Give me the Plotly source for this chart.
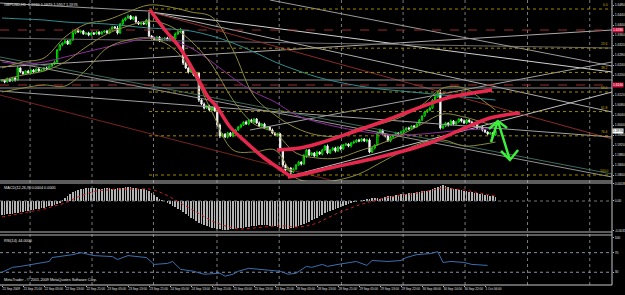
import plotly.graph_objects as go

# ---------------- DATA (GBPUSD H1) ----------------
first_open = 1.6176
closes = [
    1.6180, 1.6172, 1.6184, 1.6176, 1.6188, 1.6180,
    1.6228,
    1.6212, 1.6204, 1.6216, 1.6208, 1.6220, 1.6212, 1.6224, 1.6216, 1.6220, 1.6228, 1.6224, 1.6236,
    1.6244, 1.6252,
    1.6300, 1.6320,
    1.6328, 1.6336, 1.6324, 1.6340,
    1.6368, 1.6380, 1.6372, 1.6376,
    1.6364, 1.6368, 1.6360, 1.6368, 1.6364, 1.6372, 1.6364,
    1.6372, 1.6376, 1.6368, 1.6380,
    1.6392, 1.6388,
    1.6368,
    1.6404, 1.6420,
    1.6428, 1.6436, 1.6424, 1.6432,
    1.6412, 1.6404,
    1.6408, 1.6404, 1.6420,
    1.6356,
    1.6348, 1.6340, 1.6352, 1.6336, 1.6344, 1.6348, 1.6340, 1.6352, 1.6344,
    1.6364, 1.6372, 1.6376,
    1.6248,
    1.6228, 1.6212, 1.6220, 1.6200, 1.6208,
    1.6100,
    1.6084, 1.6068, 1.6076, 1.6060, 1.6072, 1.6056,
    1.6000, 1.5956,
    1.5964, 1.5952, 1.5968, 1.5956, 1.5972, 1.5980,
    1.5992, 1.6000, 1.6012, 1.6004, 1.6020, 1.6012, 1.6024, 1.6008,
    1.5996, 1.6004, 1.5988, 1.5992, 1.5980,
    1.5968, 1.5960, 1.5964,
    1.5900, 1.5840,
    1.5820, 1.5828, 1.5812, 1.5824,
    1.5840, 1.5852, 1.5844,
    1.5876, 1.5900, 1.5880,
    1.5888, 1.5876, 1.5892, 1.5884,
    1.5900, 1.5916, 1.5888,
    1.5900, 1.5908, 1.5896, 1.5912, 1.5904,
    1.5920, 1.5924, 1.5916, 1.5928,
    1.5932, 1.5940, 1.5936, 1.5944, 1.5936, 1.5940,
    1.5892,
    1.5908, 1.5920,
    1.5968, 1.5980,
    1.5964, 1.5956, 1.5936, 1.5952,
    1.5960, 1.5968, 1.5964, 1.5972, 1.5980,
    1.5988, 1.5984, 1.5996, 1.5992, 1.6004,
    1.6020, 1.6036, 1.6052, 1.6060, 1.6068,
    1.6100, 1.6112, 1.6128,
    1.5988,
    1.5996, 1.6008, 1.6000, 1.6016, 1.6004,
    1.6012, 1.6024, 1.6016, 1.6008, 1.6020,
    1.6012, 1.6000, 1.6004, 1.5988, 1.5992,
    1.5980, 1.5972, 1.5964, 1.5968, 1.5960, 1.5976,
]
up_wick_pips = [
    4, 3, 6, 2, 5, 3, 8, 3, 4, 2,
    5, 3, 4, 2, 6, 3, 4, 5, 3, 4,
    6, 4, 5, 3, 7, 4, 3, 10, 4, 5,
    3, 4, 2, 5, 3, 4, 6, 3, 4, 2,
    5, 6, 3, 4, 8, 4, 5, 3, 6, 4,
    3, 5, 4, 3, 5, 4, 40, 4, 5, 3,
    4, 6, 3, 5, 4, 3, 6, 5, 12, 4,
    5, 3, 6, 4, 5, 4, 3, 6, 4, 5,
    3, 4, 5, 6, 4, 3, 5, 4, 6, 3,
    4, 5, 3, 6, 4, 5, 3, 4, 6, 4,
    5, 3, 4, 6, 3, 5, 4, 8, 5, 4,
    3, 6, 4, 5, 3, 8, 4, 5, 3, 4,
    6, 3, 5, 4, 6, 3, 4, 5, 3, 6,
    4, 5, 3, 4, 6, 3, 5, 4, 3, 5,
    6, 4, 3, 5, 6, 4, 3, 5, 4, 3,
    5, 4, 6, 3, 4, 5, 3, 4, 6, 4,
    3, 5, 4, 6, 4, 5, 8, 12, 4, 5,
    3, 6, 4, 5, 3, 4, 6, 4, 3, 5,
    4, 3, 5, 6, 4, 3, 5, 4, 3,
]
down_wick_pips = [
    3, 5, 2, 4, 3, 6, 2, 5, 3, 4,
    2, 5, 3, 4, 3, 2, 5, 3, 4, 2,
    3, 4, 2, 5, 3, 4, 2, 3, 5, 4,
    6, 3, 4, 5, 3, 4, 3, 5, 2, 4,
    3, 5, 4, 3, 6, 3, 4, 5, 3, 4,
    5, 3, 4, 6, 3, 5, 4, 6, 3, 5,
    4, 3, 5, 4, 6, 3, 4, 3, 5, 8,
    4, 6, 3, 5, 4, 8, 5, 6, 4, 5,
    4, 3, 6, 8, 5, 4, 6, 3, 5, 4,
    3, 5, 4, 3, 5, 4, 6, 3, 4, 5,
    4, 6, 3, 5, 4, 6, 3, 8, 4, 5,
    16, 4, 5, 3, 6, 4, 8, 5, 4, 3,
    5, 4, 6, 3, 5, 4, 3, 6, 4, 5,
    3, 4, 5, 6, 3, 4, 5, 3, 4, 6,
    5, 4, 6, 3, 4, 5, 6, 3, 5, 4,
    4, 5, 3, 4, 6, 3, 5, 4, 3, 4,
    5, 3, 4, 5, 3, 4, 3, 6, 5, 4,
    6, 3, 5, 4, 3, 6, 4, 5, 3, 4,
    5, 4, 3, 6, 4, 5, 3, 4, 3,
]

time_labels = ["21 Sep 2009", "21 Sep 21:00", "22 Sep 05:00", "22 Sep 13:00", "22 Sep 21:00",
               "23 Sep 05:00", "23 Sep 13:00", "23 Sep 21:00", "24 Sep 05:00", "24 Sep 13:00",
               "24 Sep 21:00", "25 Sep 05:00", "25 Sep 13:00", "25 Sep 21:00", "28 Sep 05:00",
               "28 Sep 13:00", "28 Sep 21:00", "29 Sep 05:00", "29 Sep 13:00", "29 Sep 22:00",
               "30 Sep 06:00", "30 Sep 14:00", "30 Sep 22:00", "1 Oct 06:00"]
time_label_bars = [0, 8, 16, 24, 32, 40, 48, 56, 64, 72, 80, 88, 96, 104, 112, 120,
                   128, 136, 144, 152, 160, 168, 176, 184]

price_ticks = [1.5800, 1.5840, 1.5880, 1.5920, 1.5960, 1.6000, 1.6040, 1.6080, 1.6120,
               1.6200, 1.6240, 1.6280, 1.6320, 1.6360, 1.6400, 1.6440, 1.6480]

# indicator lines sampled every 8 bars (+ last bar)
ind_bars = [0, 8, 16, 24, 32, 40, 48, 56, 64, 72, 80, 88, 96, 104, 112, 120, 128,
            136, 144, 152, 160, 168, 176, 184, 188]
bb_upper = [1.6228, 1.6252, 1.6268, 1.6352, 1.6404, 1.6420, 1.6452, 1.6480, 1.6472, 1.6452,
            1.6432, 1.6300, 1.6116, 1.6040, 1.5988, 1.5960, 1.5956, 1.5988, 1.6004, 1.6032,
            1.6080, 1.6148, 1.6148, 1.6092, 1.6060]
bb_middle = [1.6180, 1.6200, 1.6216, 1.6252, 1.6312, 1.6364, 1.6396, 1.6416, 1.6396, 1.6336,
             1.6240, 1.6100, 1.6004, 1.5968, 1.5888, 1.5868, 1.5868, 1.5896, 1.5924, 1.5960,
             1.6004, 1.6044, 1.6032, 1.6008, 1.5996]
bb_lower = [1.6132, 1.6148, 1.6160, 1.6156, 1.6220, 1.6308, 1.6340, 1.6348, 1.6316, 1.6220,
            1.6052, 1.5900, 1.5892, 1.5900, 1.5788, 1.5772, 1.5780, 1.5804, 1.5848, 1.5892,
            1.5928, 1.5940, 1.5916, 1.5924, 1.5932]
ma_purple = [1.6252, 1.6244, 1.6252, 1.6272, 1.6292, 1.6312, 1.6332, 1.6348, 1.6340, 1.6308,
             1.6252, 1.6188, 1.6132, 1.6092, 1.6040, 1.6012, 1.5992, 1.5976, 1.5964, 1.5960,
             1.5964, 1.5972, 1.5980, 1.5984, 1.5988]
ma_teal = [1.6428, 1.6424, 1.6420, 1.6412, 1.6408, 1.6404, 1.6396, 1.6388, 1.6384, 1.6376,
           1.6356, 1.6328, 1.6292, 1.6252, 1.6220, 1.6192, 1.6172, 1.6156, 1.6144, 1.6136,
           1.6128, 1.6120, 1.6112, 1.6104, 1.6100]

# trend lines: (bar0, price0, bar1, price1)
trend_lines = [
    (-0.76, 1.6488, 55.6, 1.6456),
    (56.4, 1.6452, 232.4, 1.6212),
    (-0.76, 1.6232, 232.4, 1.6380),
    (-0.76, 1.6348, 232.4, 1.6308),
    (102.1, 1.6500, 232.4, 1.6236),
    (94.5, 1.5980, 232.4, 1.6252),
    (56.4, 1.6452, 232.4, 1.6052),
    (109.7, 1.5796, 232.4, 1.6132),
    (55.2, 1.6456, 232.4, 1.5944),
    (-0.76, 1.6136, 232.4, 1.5952),
    (-0.76, 1.6260, 232.4, 1.5792),
    (-0.76, 1.6272, 232.4, 1.5804),
    (-0.76, 1.6120, 124.95, 1.5780),
]
trend_colors = ["#9A9A9A", "#D0D0D0", "#B0A8A8", "#6A6A6A", "#9A9A9A", "#A0A0A0", "#ACACAC",
                "#C0C0C0", "#8B2A2A", "#A0A0A0", "#929292", "#3D6B5A", "#7A2222"]
hline_prices = [1.6380, 1.6160, 1.6180, 1.6148]
hline_colors = ["#9B2B2B", "#9B2B2B", "#8A8A8A", "#8A8A8A"]
hline_dash = ["dash", "dash", "solid", "solid"]

fib_start_bar = 56
fib_high = 1.6464
fib_low = 1.5800
fib_ratios = [0.0, 0.236, 0.382, 0.5, 0.618, 0.764, 1.0]
fib_texts = ["0.0", "23.6", "38.2", "50.0", "61.8", "76.4", "100.0"]

# hand-drawn red lines and green arrow
red_down_bars = [56.4, 62.1, 67.8, 74.3, 78.5, 81.9, 86.9, 93.3, 99.4, 104.8, 109.7]
red_down_prices = [1.6460, 1.6380, 1.6308, 1.6192, 1.6112, 1.6072, 1.5992, 1.5928, 1.5872, 1.5832, 1.5796]
red_low_bars = [108.9, 113.5, 124.9, 144.0, 163.0, 174.5, 185.9, 191.6, 197.3]
red_low_prices = [1.5792, 1.5800, 1.5828, 1.5872, 1.5928, 1.5980, 1.6028, 1.6040, 1.6048]
red_up_bars = [104.8, 113.5, 121.1, 133.7, 146.7, 156.6, 169.5, 179.4, 186.7]
red_up_prices = [1.5900, 1.5908, 1.5928, 1.5972, 1.6020, 1.6060, 1.6108, 1.6128, 1.6140]
arrow_stem_bars = [186.3, 188.9, 193.5]
arrow_stem_prices = [1.5932, 1.6016, 1.5860]
arrow_top_bars = [185.5, 188.9, 192.4]
arrow_top_prices = [1.5984, 1.6016, 1.5988]
arrow_bot_bars = [190.1, 193.5, 196.6]
arrow_bot_prices = [1.5896, 1.5860, 1.5900]

# MACD main (histogram) per bar and signal every 4 bars
macd_main = [
    -0.0014, -0.0014, -0.0013, -0.0013, -0.0013, -0.0012, -0.0012, -0.0011, -0.0011, -0.0010,
    -0.0010, -0.0009, -0.0009, -0.0008, -0.0008, -0.0007, -0.0007, -0.0006, -0.0005, -0.0005,
    -0.0004, -0.0003, -0.0002,
    0.0001, 0.0003, 0.0005, 0.0007, 0.0009, 0.0010, 0.0011, 0.0012, 0.0012, 0.0013, 0.0013, 0.0013,
    0.0013, 0.0013, 0.0012, 0.0012, 0.0013, 0.0013, 0.0013, 0.0012, 0.0012, 0.0013,
    0.0013, 0.0013, 0.0014, 0.0014, 0.0014, 0.0013, 0.0013, 0.0012, 0.0012, 0.0012, 0.0011,
    0.0010, 0.0008, 0.0006, 0.0004, 0.0002, 0.0001, 0.0000,
    -0.0002, -0.0003, -0.0005, -0.0006, -0.0008, -0.0009, -0.0011, -0.0013, -0.0015, -0.0017,
    -0.0018, -0.0020, -0.0022, -0.0023, -0.0024, -0.0025, -0.0026,
    -0.0027, -0.0027, -0.0028, -0.0028, -0.0029, -0.0029, -0.0029, -0.0028, -0.0028, -0.0028,
    -0.0027, -0.0027, -0.0027, -0.0026, -0.0026, -0.0025, -0.0025, -0.0025, -0.0024, -0.0024,
    -0.0024, -0.0024, -0.0025, -0.0025, -0.0025, -0.0026, -0.0027, -0.0028, -0.0028, -0.0028,
    -0.0027, -0.0027, -0.0026,
    -0.0025, -0.0024, -0.0023, -0.0022, -0.0021, -0.0019, -0.0018, -0.0017, -0.0015, -0.0014,
    -0.0012, -0.0011, -0.0010, -0.0009, -0.0008, -0.0007, -0.0006, -0.0005, -0.0004, -0.0003,
    -0.0002, -0.0001, -0.0001, 0.0000,
    0.0001, 0.0001, 0.0002, 0.0002, 0.0003, 0.0003, 0.0003, 0.0002, 0.0003, 0.0004,
    0.0005, 0.0005, 0.0005, 0.0006, 0.0006, 0.0007, 0.0007, 0.0007, 0.0008, 0.0008,
    0.0008, 0.0009, 0.0009, 0.0010, 0.0010, 0.0010, 0.0011, 0.0012, 0.0013, 0.0014,
    0.0015, 0.0016, 0.0015, 0.0014, 0.0013, 0.0012, 0.0012, 0.0011, 0.0011, 0.0010,
    0.0010, 0.0009, 0.0009, 0.0008, 0.0008, 0.0007, 0.0007, 0.0006, 0.0006, 0.0005,
    0.0005, 0.0004,
]
macd_signal = [
    -0.0016, -0.0014, -0.0012, -0.0010, -0.0008, -0.0005, -0.0002, 0.0003, 0.0007, 0.0010,
    0.0011, 0.0012, 0.0012, 0.0012, 0.0012, 0.0009, 0.0004, -0.0002, -0.0008, -0.0014,
    -0.0020, -0.0024, -0.0027, -0.0028, -0.0027, -0.0026, -0.0025, -0.0025, -0.0026, -0.0025,
    -0.0022, -0.0017, -0.0012, -0.0008, -0.0004, -0.0001, 0.0002, 0.0004, 0.0006, 0.0007,
    0.0009, 0.0011, 0.0013, 0.0012, 0.0011, 0.0009, 0.0007, 0.0005,
]
macd_signal_bars = list(range(0, 189, 4))

rsi_bars = [0, 4, 7, 12, 18, 19, 22, 27, 30, 35, 42, 44, 48, 55, 58, 63, 65, 68, 73, 77,
            83, 85, 88, 90, 94, 101, 106, 109, 112, 116, 118, 122, 124, 128, 135, 139, 141,
            147, 152, 154, 158, 163, 166, 168, 171, 176, 179, 185]
rsi_vals = [30, 40, 42, 46, 52, 60, 62, 66, 70, 64, 62, 56, 64, 60, 46, 48, 52, 36, 32, 26,
            28, 22, 26, 32, 38, 34, 32, 26, 28, 42, 40, 46, 42, 46, 52, 44, 54, 52, 54, 60,
            66, 68, 72, 50, 52, 50, 46, 44]

grid_bars = [10.7, 34.3, 57.7, 81.9, 105.6, 129.3, 152.8, 176.4, 200.2, 223.9]

# ---------------- FIGURE ----------------
bars = list(range(len(closes)))
opens = [first_open] + closes[:-1]
highs = [max(o, c) + w * 0.0001 for o, c, w in zip(opens, closes, up_wick_pips)]
lows = [min(o, c) - w * 0.0001 for o, c, w in zip(opens, closes, down_wick_pips)]

MAIN = [0.3649, 1.0]
MACD = [0.1860, 0.3579]
RSI = [0.0, 0.1754]
XR = [-0.762, 232.38]
FONT = "Liberation Sans Narrow, Liberation Sans, sans-serif"

fig = go.Figure()

for (b0, p0, b1, p1), col in zip(trend_lines, trend_colors):
    fig.add_trace(go.Scatter(x=[b0, b1], y=[p0, p1], mode="lines",
                             line=dict(color=col, width=1), hoverinfo="skip", yaxis="y"))
for p, col, d in zip(hline_prices, hline_colors, hline_dash):
    fig.add_trace(go.Scatter(x=[XR[0], XR[1]], y=[p, p], mode="lines",
                             line=dict(color=col, width=1, dash=d), hoverinfo="skip", yaxis="y"))
fib_levels = [fib_high - r * (fib_high - fib_low) for r in fib_ratios]
for lv in fib_levels:
    fig.add_trace(go.Scatter(x=[fib_start_bar, XR[1]], y=[lv, lv], mode="lines",
                             line=dict(color="#9C8800", width=1, dash="dot"),
                             hoverinfo="skip", yaxis="y"))
for series, col in [(ma_teal, "#2F8F8F"), (ma_purple, "#8E2C9E"),
                    (bb_upper, "#8C8A3C"), (bb_middle, "#8C8A3C"), (bb_lower, "#8C8A3C")]:
    fig.add_trace(go.Scatter(x=ind_bars, y=series, mode="lines",
                             line=dict(color=col, width=1, shape="spline"),
                             hoverinfo="skip", yaxis="y"))

fig.add_trace(go.Candlestick(
    x=bars, open=opens, high=highs, low=lows, close=closes,
    increasing=dict(line=dict(color="#00E000", width=1), fillcolor="#000000"),
    decreasing=dict(line=dict(color="#F0F0F0", width=1), fillcolor="#FFFFFF"),
    whiskerwidth=0, hoverinfo="skip", yaxis="y", xaxis="x"))

for bx, py in [(red_down_bars, red_down_prices), (red_low_bars, red_low_prices), (red_up_bars, red_up_prices)]:
    fig.add_trace(go.Scatter(x=bx, y=py, mode="lines",
                             line=dict(color="#E6284E", width=3.5, shape="spline"),
                             hoverinfo="skip", yaxis="y"))
for bx, py in [(arrow_stem_bars, arrow_stem_prices), (arrow_top_bars, arrow_top_prices), (arrow_bot_bars, arrow_bot_prices)]:
    fig.add_trace(go.Scatter(x=bx, y=py, mode="lines", line=dict(color="#3CF03C", width=2.5),
                             hoverinfo="skip", yaxis="y"))

# MACD
fig.add_trace(go.Scatter(x=[XR[0], XR[1]], y=[0, 0], mode="lines",
                         line=dict(color="#707880", width=1, dash="dot"), hoverinfo="skip", yaxis="y2"))
fig.add_trace(go.Bar(x=bars, y=macd_main, width=0.28, marker=dict(color="#B4B4B4", line=dict(width=0)),
                     hoverinfo="skip", yaxis="y2"))
fig.add_trace(go.Scatter(x=macd_signal_bars, y=macd_signal, mode="lines",
                         line=dict(color="#C81E1E", width=1, dash="dot", shape="spline"),
                         hoverinfo="skip", yaxis="y2"))

# RSI
for lv in [70, 30]:
    fig.add_trace(go.Scatter(x=[XR[0], XR[1]], y=[lv, lv], mode="lines",
                             line=dict(color="#8890A0", width=1, dash="dot"), hoverinfo="skip", yaxis="y3"))
fig.add_trace(go.Scatter(x=rsi_bars, y=rsi_vals, mode="lines", line=dict(color="#3A6FB0", width=1),
                         hoverinfo="skip", yaxis="y3"))

tickfont = dict(family=FONT, size=3.3, color="#E0E0E0")
yax = dict(side="right", anchor="x", showgrid=False, zeroline=False, showline=False,
           ticks="outside", ticklen=1, tickcolor="#C0C0C0", tickfont=tickfont, automargin=False)

shapes = []
for gb in grid_bars:
    shapes.append(dict(type="line", xref="x", yref="paper", x0=gb, x1=gb, y0=0, y1=1,
                       line=dict(color="#7A7A7A", width=1, dash="dot"), layer="below"))
for yv in [MAIN[0], MACD[1], MACD[0], RSI[1]]:
    shapes.append(dict(type="line", xref="paper", yref="paper", x0=0, x1=1, y0=yv, y1=yv,
                       line=dict(color="#B8B8B8", width=1.2)))
shapes.append(dict(type="line", xref="paper", yref="paper", x0=1, x1=1, y0=0, y1=1,
                   line=dict(color="#C8C8C8", width=1)))
shapes.append(dict(type="line", xref="paper", yref="paper", x0=0, x1=1, y0=0, y1=0,
                   line=dict(color="#C8C8C8", width=1)))

small = dict(family=FONT, size=3.8, color="#E6E6E6")
annotations = [
    dict(text="GBPUSD,H1  %.4f %.4f %.4f %.4f" % (opens[-1], highs[-1], lows[-1], closes[-1]),
         xref="paper", yref="paper", x=0.004, y=0.996, xanchor="left", yanchor="top",
         showarrow=False, font=small),
    dict(text="MACD(12,26,9) %.4f %.4f" % (macd_main[-1], macd_signal[-1]),
         xref="paper", yref="y2 domain", x=0.004, y=0.97, xanchor="left", yanchor="top",
         showarrow=False, font=small),
    dict(text="RSI(14) %.4f" % rsi_vals[-1],
         xref="paper", yref="y3 domain", x=0.004, y=0.97, xanchor="left", yanchor="top",
         showarrow=False, font=small),
    dict(text="MetaTrader - © 2001-2009 MetaQuotes Software Corp.",
         xref="paper", yref="y3 domain", x=0.004, y=0.03, xanchor="left", yanchor="bottom",
         showarrow=False, font=small),
]
for p in hline_prices[:2]:
    annotations.append(dict(text="%.4f" % p, xref="paper", yref="y", x=1.0, y=p, xanchor="left",
                            yanchor="middle", showarrow=False, bgcolor="#D0103A", borderpad=0,
                            font=dict(family=FONT, size=3.3, color="#FFFFFF")))
annotations.append(dict(text="%.4f" % closes[-1], xref="paper", yref="y", x=1.0, y=closes[-1],
                        xanchor="left", yanchor="middle", showarrow=False, bgcolor="#FFFFFF",
                        borderpad=0, font=dict(family=FONT, size=3.3, color="#000000")))
for lv, t in zip(fib_levels, fib_texts):
    annotations.append(dict(text=t, xref="x", yref="y", x=231.5, y=lv, xanchor="right", yanchor="bottom",
                            showarrow=False, font=dict(family=FONT, size=3.3, color="#C8B000")))

fig.update_layout(
    template="none",
    width=625, height=295,
    margin=dict(l=0, r=13, t=0, b=10),
    paper_bgcolor="#000000", plot_bgcolor="#000000",
    showlegend=False, bargap=0,
    xaxis=dict(domain=[0, 1], anchor="y3", range=XR, showgrid=False, zeroline=False,
               rangeslider=dict(visible=False), tickmode="array",
               tickvals=time_label_bars, ticktext=time_labels, ticklabelposition="outside right",
               tickangle=0, ticks="outside", ticklen=1, tickcolor="#C0C0C0",
               tickfont=dict(family=FONT, size=3.1, color="#E0E0E0"),
               showline=False, automargin=False),
    yaxis=dict(domain=MAIN, range=[1.5776, 1.6500], tickmode="array", tickvals=price_ticks,
               ticktext=["%.4f" % v for v in price_ticks], **yax),
    yaxis2=dict(domain=MACD, range=[-0.0031, 0.0018], tickmode="array",
                tickvals=[0.0017, 0.0, -0.0030], ticktext=["0.0018", "0.00", "-0.0031"], **yax),
    yaxis3=dict(domain=RSI, range=[4, 106], tickmode="array", tickvals=[100, 70, 30],
                ticktext=["100", "70", "30"], **yax),
    shapes=shapes,
    annotations=annotations,
)

fig.write_html("out.html")
